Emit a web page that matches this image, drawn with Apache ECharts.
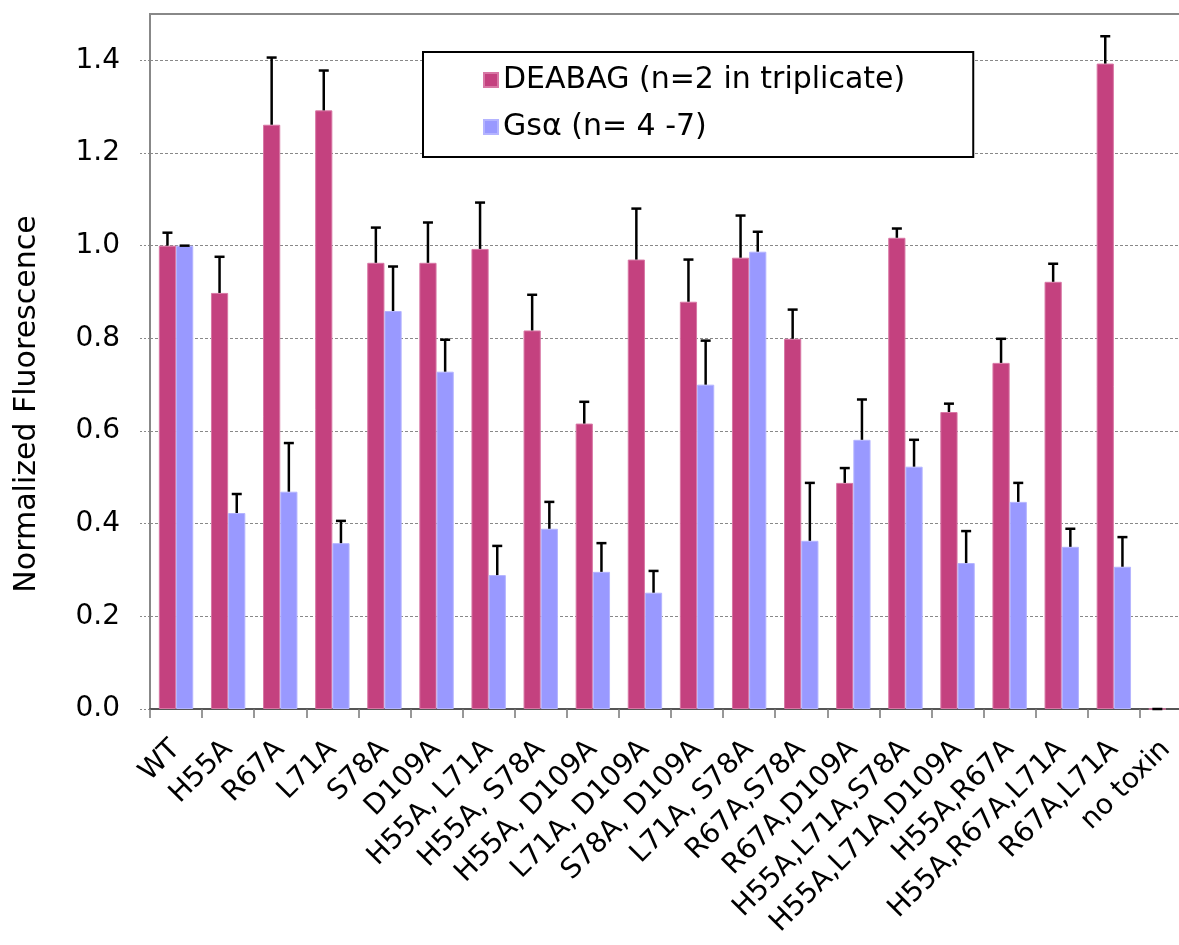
<!DOCTYPE html>
<html>
<head>
<meta charset="utf-8">
<script src="https://cdn.jsdelivr.net/npm/echarts@6/dist/echarts.min.js"></script>
<style>
html,body{margin:0;padding:0;background:#fff;overflow:hidden;width:1179px;height:945px;}
#chart{width:1192px;height:945px;}
</style>
</head>
<body>
<div id="chart"></div>
<script>
const categories = ['WT','H55A','R67A','L71A','S78A','D109A','H55A, L71A','H55A, S78A','H55A, D109A','L71A, D109A','S78A, D109A','L71A, S78A','R67A,S78A','R67A,D109A','H55A,L71A,S78A','H55A,L71A,D109A','H55A,R67A','H55A,R67A,L71A','R67A,L71A','no toxin'];
const deabag    = [1.000,0.898,1.261,1.292,0.963,0.963,0.993,0.817,0.616,0.970,0.879,0.974,0.799,0.488,1.017,0.641,0.747,0.922,1.393,0.000];
const deabagErr = [0.028,0.078,0.145,0.086,0.076,0.087,0.100,0.077,0.047,0.110,0.091,0.091,0.063,0.032,0.020,0.018,0.052,0.039,0.059,0.000];
const gsa       = [1.000,0.423,0.469,0.358,0.859,0.728,0.289,0.389,0.296,0.251,0.700,0.987,0.363,0.581,0.523,0.315,0.447,0.350,0.307,null];
const gsaErr    = [0.000,0.041,0.105,0.048,0.096,0.069,0.063,0.058,0.062,0.047,0.095,0.043,0.125,0.087,0.058,0.069,0.041,0.039,0.064,null];
const seriesNames = ['DEABAG (n=2 in triplicate)', 'Gsα (n= 4 -7)'];
const yTicks = {min: 0, max: 1.5, interval: 0.2};

const FONT = 'DejaVu Sans';
const BAR_FRAC = 0.33;
const COLORS = ['#C4417F', '#9999FF'];

function errSeries(vals, errs, side) {
  return {
    type: 'custom',
    z: 10,
    silent: true,
    data: vals.map((v, i) => (v === null ? [i, null, null] : [i, v, errs[i]])),
    renderItem: function (params, api) {
      const v = api.value(1);
      if (v === null || isNaN(v)) return null;
      const i = api.value(0);
      const e = api.value(2);
      const bw = api.size([1, 0])[0];
      const off = side * bw * BAR_FRAC / 2;
      const p0 = api.coord([i, v]);
      const p1 = api.coord([i, v + e]);
      const x = p0[0] + off;
      const style = {stroke: '#000', lineWidth: 2.5};
      return {
        type: 'group',
        children: [
          {type: 'line', shape: {x1: x, y1: p0[1], x2: x, y2: p1[1]}, style: style},
          {type: 'line', shape: {x1: x - 5, y1: p1[1], x2: x + 5, y2: p1[1]}, style: style}
        ]
      };
    }
  };
}

const chart = echarts.init(document.getElementById('chart'), null, {renderer: 'canvas'});
chart.setOption({
  animation: false,
  backgroundColor: '#fff',
  textStyle: {fontFamily: FONT},
  grid: {left: 150, top: 14, bottom: 236, right: 0, show: true, borderColor: '#888', borderWidth: 2, backgroundColor: 'transparent'},
  legend: {
    orient: 'vertical',
    left: 423, top: 52,
    padding: [13, 68, 15, 60],
    itemGap: 17,
    itemWidth: 14, itemHeight: 14,
    itemTextGap: 11,
    icon: 'rect',
    borderColor: '#000', borderWidth: 2,
    backgroundColor: '#fff',
    textStyle: {fontFamily: FONT, fontSize: 30, color: '#000', lineHeight: 30},
    data: seriesNames
  },
  xAxis: {
    type: 'category',
    data: categories,
    axisLine: {lineStyle: {color: '#555', width: 2}},
    axisTick: {show: true, length: 9, lineStyle: {color: '#777', width: 1.5}},
    axisLabel: {rotate: 45, fontFamily: FONT, fontSize: 28, color: '#000', margin: 36, interval: 0}
  },
  yAxis: {
    type: 'value',
    min: yTicks.min, max: yTicks.max, interval: yTicks.interval,
    axisLine: {show: true, lineStyle: {color: '#888', width: 2}},
    axisTick: {show: true, length: 10, lineStyle: {color: '#888', type: [2, 2]}},
    axisLabel: {fontFamily: FONT, fontSize: 28, color: '#000', margin: 30, showMaxLabel: false,
      formatter: v => v.toFixed(1)},
    splitLine: {lineStyle: {color: '#888', width: 1, type: [3, 2]}}
  },
  graphic: [{
    type: 'text',
    x: 27, y: 404,
    rotation: Math.PI / 2,
    style: {text: 'Normalized Fluorescence', fontFamily: FONT, fontSize: 30, fill: '#000', align: 'center', verticalAlign: 'middle'}
  }],
  series: [
    {name: seriesNames[0], type: 'bar', data: deabag, barWidth: (BAR_FRAC * 100) + '%', barGap: '0%',
      itemStyle: {color: COLORS[0], borderColor: '#D877A5', borderWidth: 1}},
    {name: seriesNames[1], type: 'bar', data: gsa, barWidth: (BAR_FRAC * 100) + '%', barGap: '0%',
      itemStyle: {color: COLORS[1], borderColor: '#B4B4FF', borderWidth: 1}},
    errSeries(deabag, deabagErr, -1),
    errSeries(gsa, gsaErr, 1)
  ]
});
</script>
</body>
</html>
